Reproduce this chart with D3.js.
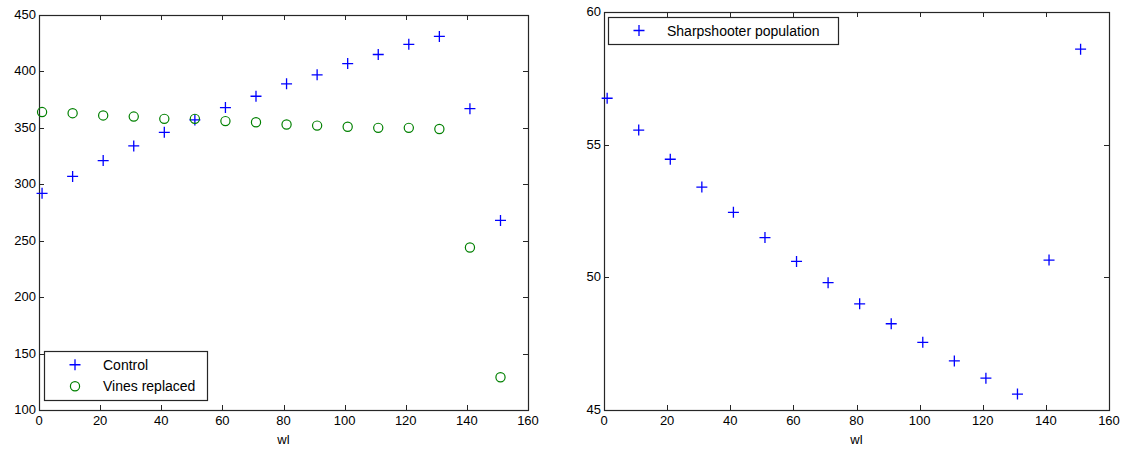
<!DOCTYPE html>
<html>
<head>
<meta charset="utf-8">
<script src="https://cdn.jsdelivr.net/npm/d3@7"></script>
<style>
  body { margin: 0; background: #fff; }
  text { font-family: "Liberation Sans", Arial, sans-serif; fill: #000; }
</style>
</head>
<body>
<svg id="main" width="1127" height="454"></svg>
<script>
var wl = [1, 11, 21, 31, 41, 51, 61, 71, 81, 91, 101, 111, 121, 131, 141, 151];
var control = [292, 307, 321, 334, 346, 357, 368, 378, 389, 397, 407, 415, 424, 431, 367, 268];
var vinesReplaced = [364, 363, 361, 360, 358, 358, 356, 355, 353, 352, 351, 350, 350, 349, 244, 129];
var sharpshooter = [56.75, 55.55, 54.45, 53.4, 52.45, 51.5, 50.6, 49.8, 49.0, 48.25, 47.55, 46.85, 46.2, 45.6, 50.65, 58.6];

var xTicks = [0, 20, 40, 60, 80, 100, 120, 140, 160];
var leftYTicks = [100, 150, 200, 250, 300, 350, 400, 450];
var rightYTicks = [45, 50, 55, 60];

var BLUE = '#0000ff';
var GREEN = '#008000';
var AXIS_COLOR = '#262626';
var FONT_SIZE = 13;

var svg = d3.select("#main");

function px(v) { return Math.round(v) + 0.5; }

function drawPanel(box, yDomain, yTicks)
{
  var x = d3.scaleLinear().domain([0, 160]).range([box.x0, box.x1]);
  var y = d3.scaleLinear().domain(yDomain).range([box.y1, box.y0]);
  var g = svg.append("g");

  // ticks on all four sides, pointing inward
  var tl = 5;
  xTicks.forEach(function(t) {
    g.append("line").attr("x1", px(x(t))).attr("x2", px(x(t))).attr("y1", box.y1).attr("y2", box.y1 - tl)
      .attr("stroke", AXIS_COLOR);
    g.append("line").attr("x1", px(x(t))).attr("x2", px(x(t))).attr("y1", box.y0).attr("y2", box.y0 + tl)
      .attr("stroke", AXIS_COLOR);
    g.append("text").attr("x", x(t)).attr("y", box.y1 + 15)
      .attr("text-anchor", "middle").style("font-size", FONT_SIZE + "px").text(t);
  });
  yTicks.forEach(function(t) {
    g.append("line").attr("x1", box.x0).attr("x2", box.x0 + tl).attr("y1", px(y(t))).attr("y2", px(y(t)))
      .attr("stroke", AXIS_COLOR);
    g.append("line").attr("x1", box.x1).attr("x2", box.x1 - tl).attr("y1", px(y(t))).attr("y2", px(y(t)))
      .attr("stroke", AXIS_COLOR);
    g.append("text").attr("x", box.x0 - 3).attr("y", y(t) + 4)
      .attr("text-anchor", "end").style("font-size", FONT_SIZE + "px").text(t);
  });

  g.append("rect").attr("x", box.x0 + 0.5).attr("y", box.y0 + 0.5)
    .attr("width", box.x1 - box.x0).attr("height", box.y1 - box.y0)
    .attr("fill", "none").attr("stroke", AXIS_COLOR).attr("stroke-width", 1.2);

  g.append("text").attr("x", (box.x0 + box.x1) / 2).attr("y", box.y1 + 34)
    .attr("text-anchor", "middle").style("font-size", FONT_SIZE + "px").text("wl");

  return {x: x, y: y, g: g};
}

function plusPath(cx, cy)
{
  return "M" + (cx - 5.5) + "," + cy + "H" + (cx + 5.5) + "M" + cx + "," + (cy - 5.5) + "V" + (cy + 5.5);
}

function plusMarks(p, xs, ys, color)
{
  p.g.selectAll(null).data(xs).enter().append("path")
    .attr("d", function(d, i) { return plusPath(p.x(d), p.y(ys[i])); })
    .attr("stroke", color).attr("stroke-width", 1.3).attr("fill", "none");
}

function circleMarks(p, xs, ys, color)
{
  p.g.selectAll(null).data(xs).enter().append("circle")
    .attr("cx", function(d) { return p.x(d); })
    .attr("cy", function(d, i) { return p.y(ys[i]); })
    .attr("r", 4.6)
    .attr("stroke", color).attr("stroke-width", 1.2).attr("fill", "none");
}

function legend(x0, y0, w, rowH, items)
{
  var g = svg.append("g");
  g.append("rect").attr("x", x0 + 0.5).attr("y", y0 + 0.5).attr("width", w).attr("height", rowH * items.length + 6)
    .attr("fill", "#fff").attr("stroke", AXIS_COLOR).attr("stroke-width", 1.2);
  items.forEach(function(it, i) {
    var cy = y0 + 3 + rowH * (i + 0.5);
    var mx = x0 + 31;
    if (it.marker === "plus") {
      g.append("path").attr("d", plusPath(mx, cy))
        .attr("stroke", it.color).attr("stroke-width", 1.3);
    } else {
      g.append("circle").attr("cx", mx).attr("cy", cy).attr("r", 4.6)
        .attr("fill", "none").attr("stroke", it.color).attr("stroke-width", 1.2);
    }
    g.append("text").attr("x", x0 + 59).attr("y", cy + 5).style("font-size", "14px").text(it.label);
  });
}

var left = drawPanel({x0: 39, x1: 528, y0: 15, y1: 410}, [100, 450], leftYTicks);
plusMarks(left, wl, control, BLUE);
circleMarks(left, wl, vinesReplaced, GREEN);
legend(44, 351, 163, 21.5, [
  {label: "Control", color: BLUE, marker: "plus"},
  {label: "Vines replaced", color: GREEN, marker: "circle"}
]);

var right = drawPanel({x0: 604, x1: 1109, y0: 12, y1: 410}, [45, 60], rightYTicks);
plusMarks(right, wl, sharpshooter, BLUE);
legend(608, 17, 230, 21, [
  {label: "Sharpshooter population", color: BLUE, marker: "plus"}
]);
</script>
</body>
</html>
